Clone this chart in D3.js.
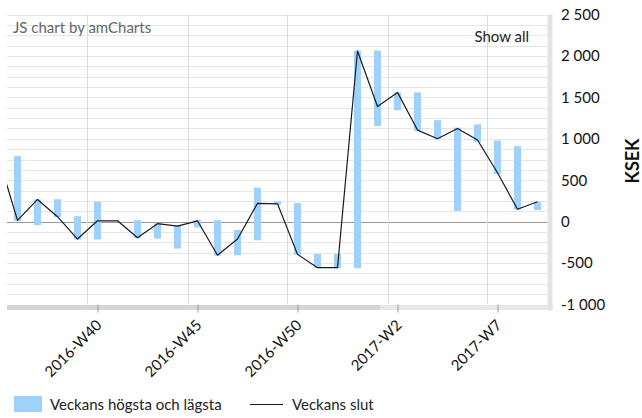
<!DOCTYPE html>
<html><head><meta charset="utf-8">
<script src="https://cdn.jsdelivr.net/npm/d3@7"></script>
<style>
html,body{margin:0;padding:0;background:#fff;}
svg{display:block;font-family:Lato,"Open Sans",sans-serif;}
</style></head>
<body>
<svg id="chart" width="642" height="418"></svg>
<script>
// ---- data ----
const weeks = ["2016-W35","2016-W36","2016-W37","2016-W38","2016-W39","2016-W40","2016-W41","2016-W42","2016-W43","2016-W44","2016-W45","2016-W46","2016-W47","2016-W48","2016-W49","2016-W50","2016-W51","2016-W52","2016-W53","2017-W1","2017-W2","2017-W3","2017-W4","2017-W5","2017-W6","2017-W7","2017-W8","2017-W9"];
const weekHigh  = [null, 790, 268, 270,   65,  240, 12,   18,  -20,  -40,  18,   18, -100,  410, 245,  225, -390, -390, 2065, 2065, 1560, 1560, 1225, 1135, 1175, 980, 910, 240];
const weekLow   = [null,  10, -42,  55, -215, -215,  8, -198, -205, -325, -70, -410, -405, -225, 205, -400, -558, -562, -562, 1155, 1345, 1095, 1000,  130,  960, 575, 145, 140];
const weekClose = [820,   15, 268,  60, -210,   10, 10, -195,  -25,  -55,  10, -405, -210,  220, 215, -395, -555, -555, 2060, 1390, 1560, 1105, 1000, 1125,  985, 590, 150, 240];
const yTicks = [-1000, -500, 0, 500, 1000, 1500, 2000, 2500];
const xTickWeeks = ["2016-W40","2016-W45","2016-W50","2017-W2","2017-W7"];
const seriesNames = ["Veckans högsta och lägsta", "Veckans slut"];
const yTitle = "KSEK";

// ---- layout ----
const svg = d3.select("#chart");
const L = 7, R = 547.5, T = 14.5, B = 304.5;
const FS = 15;
const x = d3.scaleLinear().domain([-0.5, 26.5]).range([L+0.5, R]);
const y = d3.scaleLinear().domain([-1000, 2500]).range([B, T]);
const fmt = v => d3.format(",")(v).replace(/,/g, " ").replace("\u2212", "-");

// horizontal grid every 125
const gridVals = d3.range(-1000, 2500.1, 125);
svg.append("g").selectAll("line").data(gridVals).join("line")
  .attr("x1", L).attr("x2", R)
  .attr("y1", d=>Math.round(y(d))+0.5).attr("y2", d=>Math.round(y(d))+0.5)
  .attr("stroke", d=> d===0 ? "#9a9a9a" : "#e6e6e6").attr("stroke-width", 1);

// vertical grid at band starts of labelled weeks
svg.append("g").selectAll("line").data(xTickWeeks).join("line")
  .attr("x1", d=>Math.round(x(weeks.indexOf(d)-1-0.5))+0.5)
  .attr("x2", d=>Math.round(x(weeks.indexOf(d)-1-0.5))+0.5)
  .attr("y1", T).attr("y2", B)
  .attr("stroke", "#dcdcdc");

// clip
svg.append("clipPath").attr("id","plot").append("rect")
  .attr("x", L).attr("y", T-5).attr("width", R-L).attr("height", B-T+10);

const plot = svg.append("g").attr("clip-path","url(#plot)");

// bars (high-low)
const bw = 7;
plot.append("g").selectAll("rect").data(weeks.map((w,i)=>({i:i-1, hi:weekHigh[i], lo:weekLow[i]})).filter(d=>d.hi!==null))
  .join("rect")
  .attr("x", d=>x(d.i)-bw/2).attr("width", bw)
  .attr("y", d=>y(d.hi)).attr("height", d=>Math.max(0, y(d.lo)-y(d.hi)))
  .attr("fill", "#9fd1fb");

// close line
const line = d3.line().x((d,i)=>x(i-1)).y(d=>y(d));
plot.append("path").datum(weekClose).attr("d", line)
  .attr("fill","none").attr("stroke","#1a1a1a").attr("stroke-width",1.2).attr("stroke-linejoin","round");

// scrollbars
svg.append("rect").attr("x", L).attr("y", 305).attr("width", R-L+5).attr("height", 5).attr("fill", "#e8e8e8");
svg.append("rect").attr("x", L).attr("y", 305).attr("width", 373).attr("height", 5).attr("fill", "#d6d6d6");
svg.append("rect").attr("x", R).attr("y", T).attr("width", 5).attr("height", B-T+6).attr("fill", "#e3e3e3");

// x axis
const xAxis = d3.axisBottom(x)
  .tickValues(xTickWeeks.map(w=>weeks.indexOf(w)-1))
  .tickFormat(i=>weeks[i+1]).tickSize(8).tickPadding(4);
const gx = svg.append("g").attr("transform", `translate(0,${B})`).call(xAxis);
gx.select(".domain").remove();
gx.selectAll(".tick line").attr("stroke","#9a9a9a");
gx.selectAll(".tick text")
  .attr("font-size", FS).attr("fill","#111").attr("font-family","Lato")
  .attr("text-anchor","end").attr("dy","0.35em")
  .attr("transform","translate(1,18) rotate(-45)").attr("x",0).attr("y",0);

// y axis
const yAxis = d3.axisRight(y).tickValues(yTicks).tickFormat(fmt).tickSize(0).tickPadding(8);
const gy = svg.append("g").attr("transform", `translate(553,0)`).call(yAxis);
gy.select(".domain").remove();
gy.selectAll(".tick text").attr("font-size", FS).attr("fill","#111").attr("font-family","Lato");

svg.append("text").attr("transform","translate(633,161) rotate(-90)")
  .attr("text-anchor","middle").attr("dy","0.35em")
  .attr("font-size",18).attr("font-weight","bold").attr("fill","#111").text(yTitle);

// credits + show all
svg.append("text").attr("x", 13).attr("y", 33).attr("font-size", FS).attr("fill","#666").text("JS chart by amCharts");
svg.append("text").attr("x", 529).attr("y", 42).attr("text-anchor","end").attr("font-size", FS).attr("fill","#222").text("Show all");

// legend
const lg = svg.append("g");
lg.append("rect").attr("x", 14).attr("y", 396).attr("width", 28).attr("height", 16).attr("fill","#9fd1fb");
lg.append("text").attr("x", 50).attr("y", 409.5).attr("font-size", FS).attr("fill","#222").text(seriesNames[0]);
lg.append("line").attr("x1", 250).attr("x2", 283).attr("y1", 404.5).attr("y2", 404.5).attr("stroke","#1a1a1a").attr("stroke-width",1.2);
lg.append("text").attr("x", 292).attr("y", 409.5).attr("font-size", FS).attr("fill","#222").text(seriesNames[1]);
</script>
</body></html>
